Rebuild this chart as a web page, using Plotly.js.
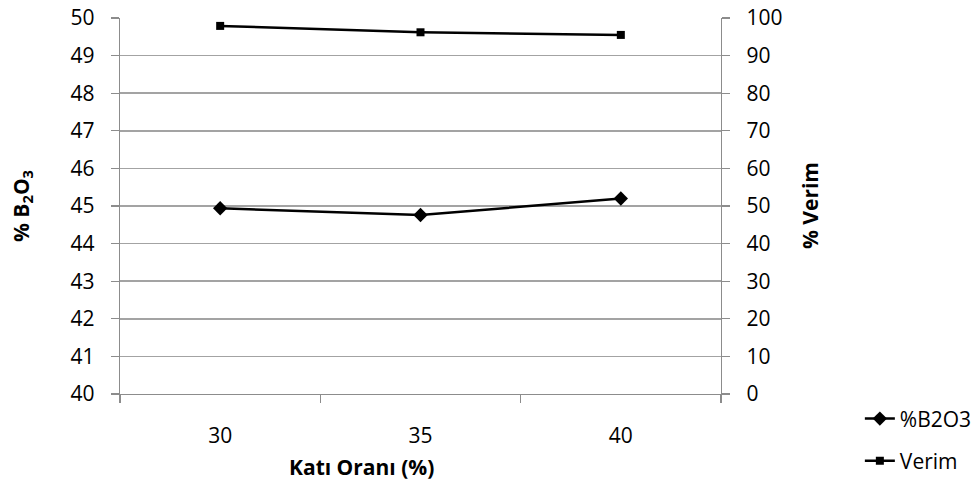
<!DOCTYPE html>
<html>
<head>
<meta charset="utf-8">
<script src="https://cdn.plot.ly/plotly-3.0.1.min.js"></script>
<style>html,body{margin:0;padding:0;background:#fff;}#chart{width:976px;height:486px;}</style>
</head>
<body>
<div id="chart"></div>
<script>
const categories = ['30', '35', '40'];
const b2o3Values = [44.94, 44.76, 45.20];
const verimValues = [97.9, 96.2, 95.5];
const leftTicks = [40, 41, 42, 43, 44, 45, 46, 47, 48, 49, 50];
const rightTicks = [0, 10, 20, 30, 40, 50, 60, 70, 80, 90, 100];

const FONT = '"Open Sans", Lato, sans-serif';
const GRID = '#a3a3a3';
const AXIS = '#8c8c8c';
const FS = 21;

const traces = [
  {
    x: categories, y: b2o3Values, name: '%B2O3', type: 'scatter', mode: 'lines+markers',
    line: {color: '#000', width: 2.5}, marker: {symbol: 'diamond', size: 11, color: '#000'},
    xaxis: 'x', yaxis: 'y', legend: 'legend'
  },
  {
    x: categories, y: verimValues, name: 'Verim', type: 'scatter', mode: 'lines+markers',
    line: {color: '#000', width: 2.5}, marker: {symbol: 'square', size: 8, color: '#000'},
    xaxis: 'x', yaxis: 'y2', legend: 'legend2'
  }
];

const layout = {
  width: 976, height: 486,
  margin: {l: 120, r: 255, t: 18, b: 92, autoexpand: false},
  paper_bgcolor: '#fff', plot_bgcolor: '#fff',
  font: {family: FONT, size: FS, color: '#000'},
  xaxis: {
    type: 'category', range: [-0.5, 2.5], tickson: 'boundaries',
    ticks: 'outside', ticklen: 8, tickcolor: AXIS, tickwidth: 1.3,
    showline: true, linecolor: AXIS, linewidth: 1.3, showgrid: false, zeroline: false,
    ticklabelstandoff: 22, fixedrange: true, automargin: false
  },
  yaxis: {
    range: [40, 50], tickvals: leftTicks, ticktext: leftTicks.map(String),
    ticks: 'outside', ticklen: 8, tickcolor: AXIS, tickwidth: 1.3,
    showline: true, linecolor: AXIS, linewidth: 1.3,
    showgrid: true, gridcolor: GRID, gridwidth: 1.5, zeroline: false,
    ticklabelstandoff: 12, automargin: false
  },
  yaxis2: {
    range: [0, 100], tickvals: rightTicks, ticktext: rightTicks.map(String),
    overlaying: 'y', side: 'right',
    ticks: 'outside', ticklen: 8, tickcolor: AXIS, tickwidth: 1.3,
    showline: true, linecolor: AXIS, linewidth: 1.3, showgrid: false, zeroline: false,
    ticklabelstandoff: 12, automargin: false
  },
  legend: {
    xref: 'container', yref: 'container',
    x: 0.881, xanchor: 'left', y: 0.138, yanchor: 'middle',
    font: {family: FONT, size: FS}, bgcolor: 'rgba(0,0,0,0)', itemwidth: 30
  },
  legend2: {
    xref: 'container', yref: 'container',
    x: 0.881, xanchor: 'left', y: 0.0514, yanchor: 'middle',
    font: {family: FONT, size: FS}, bgcolor: 'rgba(0,0,0,0)', itemwidth: 30
  },
  annotations: [
    {text: '<b>% B<sub>2</sub>O<sub>3</sub></b>', xref: 'paper', yref: 'paper', x: 0, y: 0.5,
     xanchor: 'center', yanchor: 'middle',
     xshift: -98, textangle: -90, showarrow: false, font: {family: FONT, size: FS}},
    {text: '<b>% Verim</b>', xref: 'paper', yref: 'paper', x: 1, y: 0.5,
     xanchor: 'center', yanchor: 'middle',
     xshift: 89, textangle: -90, showarrow: false, font: {family: FONT, size: FS}},
    {text: '<b>Katı Oranı (%)</b>', xref: 'paper', yref: 'paper', x: 0.401, y: 0,
     xanchor: 'center', yanchor: 'middle',
     yshift: -73, showarrow: false, font: {family: FONT, size: FS}}
  ],
  showlegend: true
};

Plotly.newPlot('chart', traces, layout, {displayModeBar: false, staticPlot: true});
</script>
</body>
</html>
